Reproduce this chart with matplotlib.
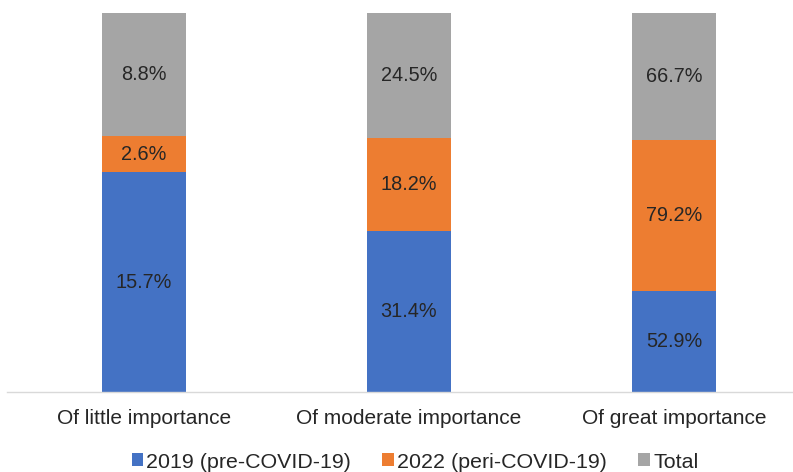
import numpy as np
import matplotlib
matplotlib.use('Agg')
import matplotlib.pyplot as plt

plt.rcParams['font.family'] = ['Liberation Sans', 'DejaVu Sans']

# --- Datos ---
categorias = ['Of little importance', 'Of moderate importance', 'Of great importance']
series     = ['2019 (pre-COVID-19)', '2022 (peri-COVID-19)', 'Total']
v2019      = [15.7, 31.4, 52.9]
v2022      = [2.6, 18.2, 79.2]
vtotal     = [8.8, 24.5, 66.7]
colores    = ['#4472C4', '#ED7D31', '#A5A5A5']

valores = np.array([v2019, v2022, vtotal])
pct     = valores / valores.sum(axis=0) * 100   # barras apiladas al 100%

fig = plt.figure(figsize=(7.93, 4.72), dpi=100)
ax = fig.add_axes([7 / 793, 1 - 392 / 472, 786 / 793, 379 / 472])

x = np.arange(len(categorias))
base = np.zeros(len(categorias))
for i, serie in enumerate(series):
    ax.bar(x, pct[i], bottom=base, width=0.315, color=colores[i], label=serie)
    for xi, b, h, v in zip(x, base, pct[i], valores[i]):
        ax.text(xi, b + h / 2, f'{v:.1f}%', ha='center', va='center',
                fontsize=14.3, color='#262626')
    base += pct[i]

ax.set_xlim(-137 / 265, 649 / 265)
ax.set_ylim(0, 100)
ax.set_yticks([])
ax.set_xticks(x)
ax.set_xticklabels(categorias, fontsize=15, color='#262626')
ax.tick_params(axis='x', length=0, pad=12)
for s in ['top', 'right', 'left']:
    ax.spines[s].set_visible(False)
ax.spines['bottom'].set_color('#D9D9D9')
ax.spines['bottom'].set_linewidth(1.0)

fig.legend(loc='center', bbox_to_anchor=(415 / 793, 1 - 462 / 472), ncol=3,
           frameon=False, fontsize=15.4, handlelength=0.55, handleheight=0.55,
           handletextpad=0.15, columnspacing=1.45, labelcolor='#262626')

plt.savefig('out.png', dpi=100, facecolor='white')
